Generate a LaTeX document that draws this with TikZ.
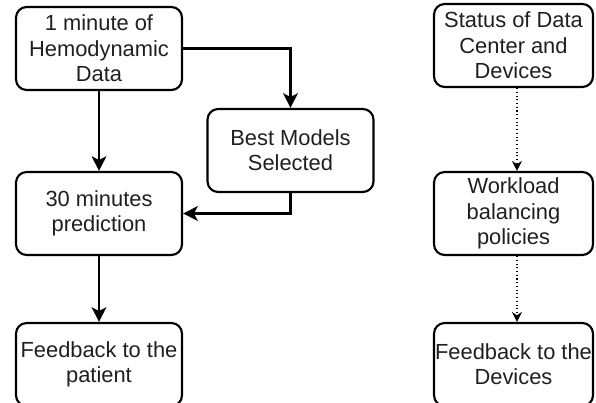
\documentclass[tikz,border=0pt]{standalone}
\usepackage{fontspec}
\setmainfont{Liberation Sans}
\usetikzlibrary{arrows.meta}
\begin{document}
\begin{tikzpicture}[x=0.75pt,y=-0.75pt,
  box/.style={draw=black, line width=1.6pt, rounded corners=8pt, minimum width=166*0.75pt, minimum height=83*0.75pt, inner sep=0pt, align=center, text=black!88, font=\fontsize{16.4pt}{19pt}\selectfont},
  solidarrow/.style={line width=1.6pt, -{Stealth[length=11pt,width=11pt,inset=2.8pt]}},
  dotarrow/.style={line width=0.8pt, dotted, -{Stealth[length=7.5pt,width=7.5pt,inset=2.5pt]}}]
\useasboundingbox (0,0) rectangle (596,403);
\node[box] (A) at (99,48.5) {1 minute of\\Hemodynamic\\Data};
\node[box] (B) at (290.5,150.5) {Best Models\\Selected};
\node[box] (C) at (99,213.5) {30 minutes\\prediction};
\node[box] (D) at (99,364.5) {Feedback to the\\patient};
\node[box, minimum width=159*0.75pt] (E) at (513.5,45.5) {Status of Data\\Center and\\Devices};
\node[box, minimum width=159*0.75pt] (F) at (513.5,213.5) {Workload\\balancing\\policies};
\node[box, minimum width=159*0.75pt] (G) at (513.5,364.5) {Feedback to the\\Devices};
\draw[solidarrow] (A.east) -| (B.north);
\draw[solidarrow] (A.south) -- (C.north);
\draw[solidarrow] (B.south) |- (C.east);
\draw[solidarrow] (C.south) -- (D.north);
\draw[dotarrow] ([xshift=2.6pt]E.south) -- ([xshift=2.6pt]F.north);
\draw[dotarrow] ([xshift=2.6pt]F.south) -- ([xshift=2.6pt]G.north);
\end{tikzpicture}
\end{document}
